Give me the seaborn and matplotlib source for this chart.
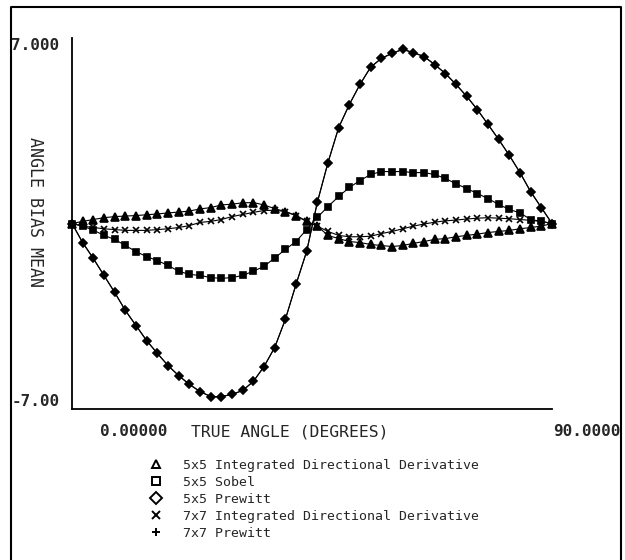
import numpy as np
import pandas as pd
import matplotlib
matplotlib.use("Agg")
import matplotlib.pyplot as plt
from matplotlib.lines import Line2D
import seaborn as sb

# true angle (degrees), sampled every 2 degrees
angles = [0, 2, 4, 6, 8, 10, 12, 14, 16, 18, 20, 22, 24, 26, 28, 30, 32, 34, 36, 38, 40, 42, 44,
          46, 48, 50, 52, 54, 56, 58, 60, 62, 64, 66, 68, 70, 72, 74, 76, 78, 80, 82, 84, 86, 88, 90]

idd5 = [0.0, 0.08, 0.15, 0.22, 0.26, 0.28, 0.30, 0.33, 0.36, 0.40, 0.43, 0.47, 0.55, 0.60, 0.70,
        0.73, 0.78, 0.79, 0.70, 0.56, 0.45, 0.30, 0.08,
        -0.10, -0.45, -0.57, -0.68, -0.72, -0.79, -0.83, -0.87, -0.83, -0.75, -0.68, -0.60, -0.57,
        -0.50, -0.45, -0.40, -0.34, -0.30, -0.26, -0.20, -0.15, -0.10, 0.0]

sobel5 = [0.0, -0.10, -0.25, -0.45, -0.60, -0.83, -1.06, -1.25, -1.40, -1.58, -1.80, -1.92, -1.96,
          -2.04, -2.07, -2.04, -1.96, -1.80, -1.62, -1.30, -0.98, -0.68, -0.23,
          0.23, 0.64, 1.02, 1.36, 1.62, 1.85, 1.96, 1.96, 1.96, 1.92, 1.92, 1.85, 1.70,
          1.50, 1.32, 1.13, 0.94, 0.72, 0.53, 0.40, 0.15, 0.08, 0.0]

prewitt5 = [0.0, -0.72, -1.32, -1.96, -2.60, -3.28, -3.85, -4.42, -4.90, -5.36, -5.74, -6.07, -6.34,
            -6.53, -6.53, -6.45, -6.30, -5.96, -5.40, -4.68, -3.62, -2.30, -1.05,
            0.80, 2.30, 3.62, 4.49, 5.25, 5.90, 6.23, 6.42, 6.57, 6.45, 6.30, 6.00, 5.66,
            5.25, 4.80, 4.30, 3.74, 3.17, 2.57, 1.92, 1.20, 0.60, 0.0]

idd7 = [0.0, -0.10, -0.15, -0.20, -0.23, -0.26, -0.26, -0.26, -0.23, -0.20, -0.15, -0.08, 0.04,
        0.08, 0.15, 0.26, 0.34, 0.42, 0.49, 0.50, 0.45, 0.30, 0.08,
        -0.10, -0.30, -0.45, -0.50, -0.50, -0.48, -0.38, -0.30, -0.20, -0.10, -0.02, 0.05, 0.10,
        0.13, 0.17, 0.20, 0.22, 0.20, 0.18, 0.15, 0.12, 0.08, 0.0]

# 7x7 Prewitt plots on top of the 5x5 Prewitt curve
prewitt7 = list(prewitt5)

labels = ["5x5 Integrated Directional Derivative", "5x5 Sobel", "5x5 Prewitt",
          "7x7 Integrated Directional Derivative", "7x7 Prewitt"]
series = [idd5, sobel5, prewitt5, idd7, prewitt7]
markers = ["^", "s", "D", "x", "+"]
msizes = [6, 5, 4, 5, 6]

sb.set_style("white")
plt.rcParams['font.family'] = ['DejaVu Sans Mono', 'DejaVu Sans']

fig = plt.figure(figsize=(6.25, 5.6), dpi=100)
ax = fig.add_axes([72 / 625, 1 - 409 / 560, 480 / 625, 371 / 560])

for vals, mk, ms in zip(series, markers, msizes):
    df = pd.DataFrame({"angle": angles, "bias": vals})
    sb.lineplot(data=df, x="angle", y="bias", ax=ax, color="black", linewidth=0.8,
                marker=mk, markersize=ms, markeredgecolor="black", markeredgewidth=1.2,
                clip_on=False, legend=False)

ax.set_xlim(0, 90)
ax.set_ylim(-7, 7)
for s in ["top", "right"]:
    ax.spines[s].set_visible(False)
for s in ["left", "bottom"]:
    ax.spines[s].set_color("black")
    ax.spines[s].set_linewidth(1.3)

ax.set_xticks(np.arange(0, 95, 5))
ax.set_xticklabels([])
ax.set_yticks(np.arange(-7, 8, 1))
ylabs = [""] * 15
ylabs[0] = "-7.00"
ylabs[-1] = "7.000"
ax.set_yticklabels(ylabs, fontsize=11.5, fontweight="bold")
ax.tick_params(axis="x", direction="in", length=4, width=1.2, color="black")
ax.tick_params(axis="y", direction="in", length=5, width=1.2, color="black", pad=9)
tl = ax.get_yticklabels()
tl[0].set_va("bottom")
tl[-1].set_va("top")
ax.set_xlabel("")
ax.set_ylabel("")

ax.text(28 / 480, -23 / 371, "0.00000", transform=ax.transAxes, fontsize=11.5,
        fontweight="bold", ha="left", va="center")
ax.text(119 / 480, -23 / 371, "TRUE ANGLE (DEGREES)", transform=ax.transAxes, fontsize=11.8,
        ha="left", va="center")
ax.text(481 / 480, -23 / 371, "90.0000", transform=ax.transAxes, fontsize=11.5,
        fontweight="bold", ha="left", va="center")
fig.text(35 / 625, 1 - 212 / 560, "ANGLE BIAS MEAN", rotation=270, fontsize=12,
         ha="center", va="center")

handles = [Line2D([], [], color="black", marker=mk, linestyle="none", markersize=6,
                  markerfacecolor="none", markeredgewidth=1.4) for mk in markers]
fig.legend(handles, labels, loc="upper left", bbox_to_anchor=(149 / 625, 1 - 459 / 560),
           frameon=False, prop={"family": "DejaVu Sans Mono", "size": 9.5},
           handlelength=1.0, handletextpad=1.6, labelspacing=0.3, borderpad=0,
           borderaxespad=0)

# outer frame of the page
fig.add_artist(Line2D([11 / 625, 11 / 625, 621 / 625, 621 / 625],
                      [0, 1 - 7 / 560, 1 - 7 / 560, 0],
                      transform=fig.transFigure, color="black", linewidth=1.5))

fig.savefig("out.png", dpi=100)
